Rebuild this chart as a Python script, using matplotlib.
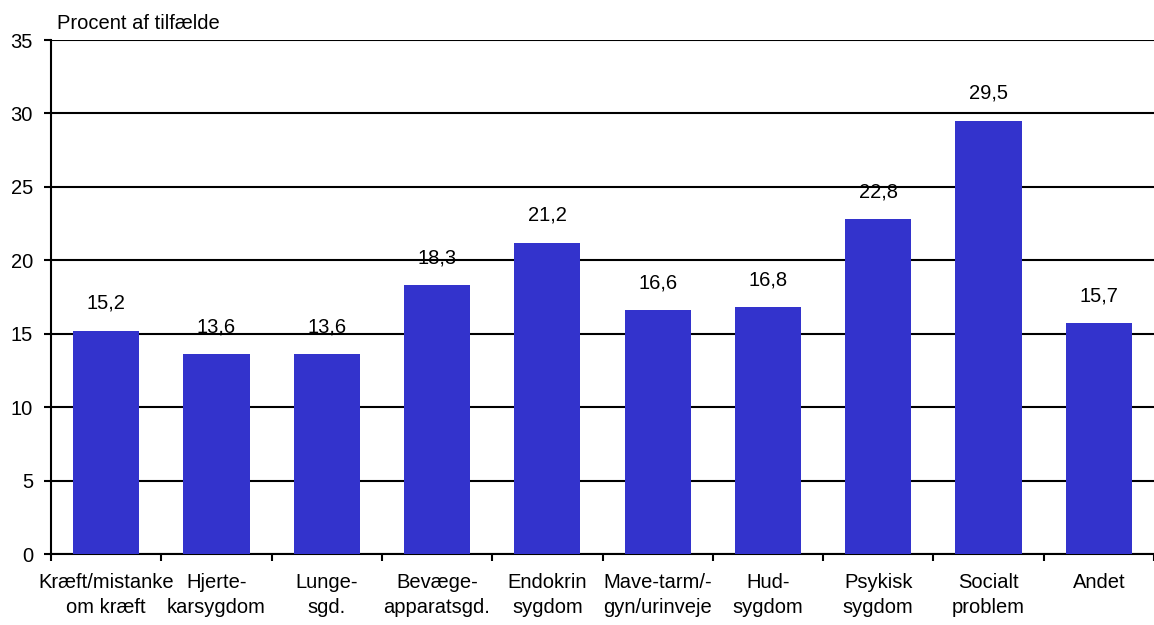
import matplotlib
matplotlib.use("Agg")
import matplotlib.pyplot as plt
import numpy as np

plt.rcParams['font.family'] = ['Liberation Sans', 'DejaVu Sans']

categories = ["Kræft/mistanke\nom kræft", "Hjerte-\nkarsygdom", "Lunge-\nsgd.",
              "Bevæge-\napparatsgd.", "Endokrin\nsygdom", "Mave-tarm/-\ngyn/urinveje",
              "Hud-\nsygdom", "Psykisk\nsygdom", "Socialt\nproblem", "Andet"]
values = [15.2, 13.6, 13.6, 18.3, 21.2, 16.6, 16.8, 22.8, 29.5, 15.7]
value_labels = ["15,2", "13,6", "13,6", "18,3", "21,2", "16,6", "16,8", "22,8", "29,5", "15,7"]
yticks = [0, 5, 10, 15, 20, 25, 30, 35]

FS = 14.5

fig = plt.figure(figsize=(11.54, 6.25), dpi=100)
ax = fig.add_axes([0.0442, 0.1136, 0.9558, 0.8224])

x = np.arange(len(categories))
ax.bar(x, values, width=0.6, color="#3333CC", zorder=3)

for xi, v, lab in zip(x, values, value_labels):
    ax.text(xi, v + 1.5, lab, ha="center", va="baseline", fontsize=FS, color="black")

ax.set_xlim(-0.5, len(categories) - 0.5)
ax.set_ylim(0, 35)
ax.set_yticks(yticks)
ax.set_yticklabels([str(t) for t in yticks], fontsize=FS)
ax.yaxis.grid(True, color="black", linewidth=1.5, zorder=0)
ax.set_axisbelow(True)

# category boundaries carry the tick marks, labels sit at the bar centres
ax.set_xticks(np.arange(len(categories) + 1) - 0.5)
ax.set_xticklabels([])
ax.set_xticks(x, minor=True)
ax.set_xticklabels(categories, minor=True, fontsize=FS, linespacing=1.35)
ax.tick_params(axis="x", which="minor", length=0, pad=14)
ax.tick_params(axis="x", which="major", length=5, width=1.5, direction="out")
ax.tick_params(axis="y", length=5, width=1.5, direction="out", pad=8)

for side in ["top", "right"]:
    ax.spines[side].set_visible(False)
ax.spines["left"].set_linewidth(1.5)
ax.spines["bottom"].set_linewidth(1.5)

fig.text(0.049, 0.962, "Procent af tilfælde", fontsize=FS, ha="left", va="center")

fig.savefig("out.png", dpi=100)
